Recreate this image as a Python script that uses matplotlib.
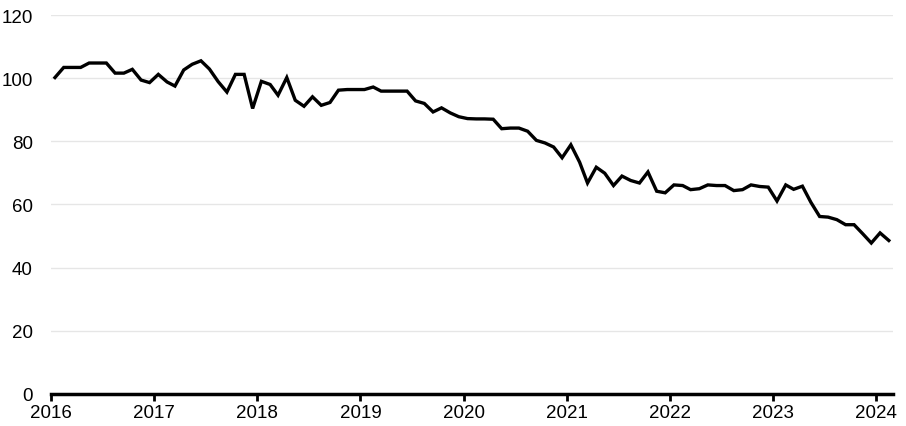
import numpy as np
import pandas as pd
import matplotlib
matplotlib.use("Agg")
import matplotlib.pyplot as plt
import matplotlib.dates as mdates

# monthly index values, Jan 2016 - Feb 2024
v2016 = [100.2, 103.4, 103.4, 103.4, 104.8, 104.8, 104.8, 101.6, 101.6, 102.8, 99.4, 98.6]
v2017 = [101.2, 98.8, 97.5, 102.6, 104.4, 105.5, 102.9, 98.9, 95.6, 101.2, 101.2, 90.4]
v2018 = [99.0, 98.0, 94.6, 100.2, 93.0, 91.1, 94.1, 91.4, 92.3, 96.2, 96.4, 96.4]
v2019 = [96.4, 97.2, 95.9, 95.9, 95.9, 95.9, 92.8, 92.0, 89.3, 90.6, 89.0, 87.8]
v2020 = [87.2, 87.1, 87.1, 87.0, 84.0, 84.2, 84.2, 83.2, 80.3, 79.5, 78.2, 74.8]
v2021 = [78.9, 73.4, 66.8, 71.8, 69.9, 66.0, 69.0, 67.6, 66.8, 70.3, 64.2, 63.7]
v2022 = [66.2, 66.0, 64.7, 65.0, 66.2, 66.0, 66.0, 64.4, 64.7, 66.2, 65.7, 65.5]
v2023 = [61.1, 66.2, 64.8, 65.8, 60.7, 56.2, 56.0, 55.2, 53.6, 53.6, 50.7, 47.8]
v2024 = [51.0, 48.6]

values = v2016 + v2017 + v2018 + v2019 + v2020 + v2021 + v2022 + v2023 + v2024
# mid-month positions
dates = pd.date_range("2016-01-01", periods=len(values), freq="MS") + pd.Timedelta(days=14)

plt.rcParams['font.family'] = ['Liberation Sans', 'DejaVu Sans']

fig = plt.figure(figsize=(9.06, 4.27), dpi=100)
ax = fig.add_axes([0.0563, 0.075, 0.9294, 0.8875])

ax.plot(dates, values, color="black", linewidth=2.4, solid_joinstyle="miter")

ax.set_ylim(0, 120)
ax.set_yticks(np.arange(0, 121, 20))
ax.set_xlim(pd.Timestamp("2016-01-01"), pd.Timestamp("2024-03-01"))
ax.xaxis.set_major_locator(mdates.YearLocator())
ax.xaxis.set_major_formatter(mdates.DateFormatter("%Y"))

ax.grid(axis="y", color="#e6e6e6", linewidth=1)
ax.set_axisbelow(True)
for s in ["top", "right", "left"]:
    ax.spines[s].set_visible(False)
ax.spines["bottom"].set_linewidth(2.5)
ax.spines["bottom"].set_color("black")

ax.tick_params(axis="y", length=0, pad=13, labelsize=13.5)
ax.tick_params(axis="x", length=5, width=2, color="black", pad=2, labelsize=13.5)

fig.savefig("out.png", dpi=100)
